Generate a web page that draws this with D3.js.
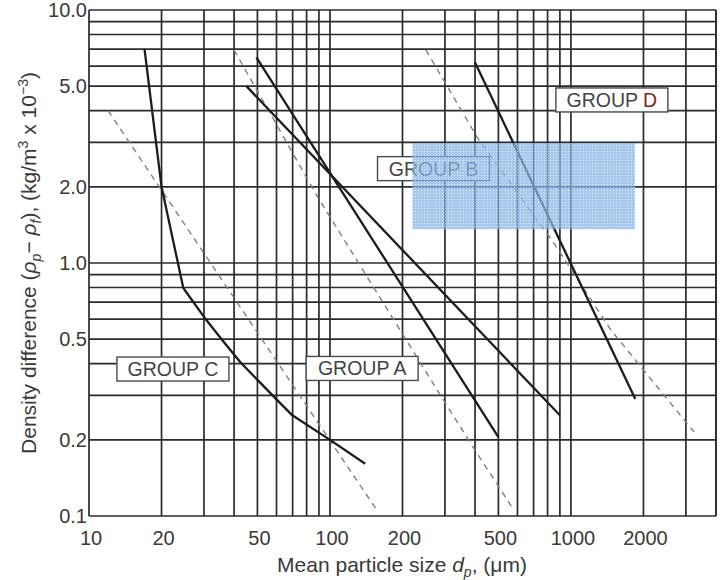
<!DOCTYPE html>
<html>
<head>
<meta charset="utf-8">
<script src="https://cdn.jsdelivr.net/npm/d3@7"></script>
<style>
  body { margin: 0; background: #fff; }
  svg { display: block; font-family: "Liberation Sans", Arial, sans-serif; }
</style>
</head>
<body>
<svg width="720" height="580"></svg>
<script>
// Group boundaries, [dp (um), density difference (kg/m3 x 1e-3)]
const groupC = [[17, 7.0], [20, 2.0], [24.6, 0.8], [25.3, 0.768], [30, 0.612], [35.7, 0.496], [42.4, 0.406],
                [50.5, 0.342], [60.4, 0.287], [69.8, 0.25], [100, 0.2], [140, 0.161]];
const groupA1 = [[49.5, 6.5], [500, 0.205]];
const groupA2 = [[45, 5.0], [900, 0.25]];
const groupD = [[400, 6.2], [1850, 0.29]];

const dashed1 = [[12, 4.0], [157, 0.105]];
const dashed2 = [[40, 6.95], [89, 1.82], [296, 0.287], [392, 0.1875], [574, 0.107]];
const dashed3 = [[250, 6.95], [410, 3.12], [849, 1.2], [1466, 0.543], [2530, 0.287], [3243, 0.215]];

const labelNames = ["GROUP C", "GROUP A", "GROUP B", "GROUP D"];
const labelX = [22.3, 136, 269, 1479];
const labelY = [0.381, 0.383, 2.36, 4.41];

const boxBx = [220, 1846];
const boxBy = [1.36, 2.98];

const xTicks = [10, 20, 50, 100, 200, 500, 1000, 2000];
const yTicks = [0.1, 0.2, 0.5, 1.0, 2.0, 5.0, 10.0];

const svg = d3.select("svg");
const margin = { left: 89, top: 10, right: 4, bottom: 64 };
const width = 720 - margin.left - margin.right;
const height = 580 - margin.top - margin.bottom;

const x = d3.scaleLog().domain([10, 4000]).range([margin.left, margin.left + width]);
const y = d3.scaleLog().domain([0.1, 10]).range([margin.top + height, margin.top]);

const textColor = "#3a3a3a";
const gridColor = "#2b2b2b";

// grid
const xGrid = [];
[10, 100, 1000].forEach(d => { for (let k = 1; k < 10; k++) if (d * k <= 4000) xGrid.push(d * k); });
xGrid.push(4000);
const yGrid = [];
[0.1, 1].forEach(d => { for (let k = 1; k < 10; k++) yGrid.push(+(d * k).toFixed(2)); });
yGrid.push(10);

const grid = svg.append("g");
grid.selectAll(".vg").data(xGrid).enter().append("line")
    .attr("x1", d => x(d)).attr("x2", d => x(d))
    .attr("y1", y(0.1)).attr("y2", y(10))
    .attr("stroke", gridColor).attr("stroke-width", 1.7);
grid.selectAll(".hg").data(yGrid).enter().append("line")
    .attr("y1", d => y(d)).attr("y2", d => y(d))
    .attr("x1", x(10)).attr("x2", x(4000))
    .attr("stroke", gridColor).attr("stroke-width", 1.7);

// tick labels
svg.append("g").selectAll("text").data(yTicks).enter().append("text")
    .attr("x", margin.left - 2).attr("y", d => y(d)).attr("dy", "0.35em")
    .attr("text-anchor", "end").attr("font-size", 20).attr("fill", textColor)
    .text(d => d.toFixed(1));
svg.append("g").selectAll("text").data(xTicks).enter().append("text")
    .attr("x", d => x(d) + 2).attr("y", margin.top + height + 29)
    .attr("text-anchor", "middle").attr("font-size", 20).attr("fill", textColor)
    .text(d => d);

const line = d3.line().x(d => x(d[0])).y(d => y(d[1]));

// dashed reference lines
[dashed1, dashed2, dashed3].forEach(ds => {
    svg.append("path").attr("d", line(ds))
        .attr("fill", "none").attr("stroke", "#808080")
        .attr("stroke-width", 1.4).attr("stroke-dasharray", "6,5");
});

// solid boundaries
[groupC, groupA1, groupA2, groupD].forEach(ds => {
    svg.append("path").attr("d", line(ds))
        .attr("fill", "none").attr("stroke", "#1c1c1c")
        .attr("stroke-width", 2.3).attr("stroke-linejoin", "round");
});

// group labels
labelNames.forEach((name, i) => {
    const g = svg.append("g").attr("transform", `translate(${x(labelX[i])},${y(labelY[i])})`);
    g.append("rect").attr("x", -56).attr("y", -12).attr("width", 112).attr("height", 24)
        .attr("fill", "#fff").attr("stroke", "#4a4a4a").attr("stroke-width", 1.4);
    const t = g.append("text").attr("text-anchor", "middle").attr("dy", "0.36em")
        .attr("font-size", 19.5).attr("fill", "#444");
    if (name === "GROUP D") {
        t.append("tspan").text("GROUP ");
        t.append("tspan").attr("fill", "#7a2626").text("D");
    } else {
        t.text(name);
    }
});

// group B highlight box
const defs = svg.append("defs");
const pat = defs.append("pattern").attr("id", "dots")
    .attr("width", 3).attr("height", 3).attr("patternUnits", "userSpaceOnUse");
pat.append("rect").attr("width", 3).attr("height", 3).attr("fill", "#86b4e6");
pat.append("rect").attr("x", 1).attr("y", 1).attr("width", 1).attr("height", 1).attr("fill", "#d6e6f7");

svg.append("rect")
    .attr("x", x(boxBx[0])).attr("y", y(boxBy[1]))
    .attr("width", x(boxBx[1]) - x(boxBx[0]))
    .attr("height", y(boxBy[0]) - y(boxBy[1]))
    .attr("fill", "url(#dots)").attr("opacity", 0.72);

// axis titles
const xt = svg.append("text")
    .attr("x", 402).attr("y", margin.top + height + 56)
    .attr("text-anchor", "middle").attr("font-size", 21).attr("fill", textColor);
xt.append("tspan").text("Mean particle size  ");
xt.append("tspan").attr("font-style", "italic").text("d");
xt.append("tspan").attr("font-style", "italic").attr("font-size", 14).attr("dy", 5).text("p");
xt.append("tspan").attr("dy", -5).text(", (\u03bcm)");

const yt = svg.append("text")
    .attr("transform", `translate(36,${margin.top + height / 2}) rotate(-90)`)
    .attr("text-anchor", "middle").attr("font-size", 21).attr("fill", textColor);
yt.append("tspan").text("Density difference (");
yt.append("tspan").attr("font-style", "italic").text("\u03c1");
yt.append("tspan").attr("font-style", "italic").attr("font-size", 14).attr("dy", 5).text("p");
yt.append("tspan").attr("dy", -5).text("\u2212 ");
yt.append("tspan").attr("font-style", "italic").text("\u03c1");
yt.append("tspan").attr("font-style", "italic").attr("font-size", 14).attr("dy", 5).text("f");
yt.append("tspan").attr("dy", -5).text("), (kg/m");
yt.append("tspan").attr("font-size", 14).attr("dy", -8).text("3");
yt.append("tspan").attr("dy", 8).text(" x 10");
yt.append("tspan").attr("font-size", 14).attr("dy", -8).text("\u22123");
yt.append("tspan").attr("dy", 8).text(")");
</script>
</body>
</html>
